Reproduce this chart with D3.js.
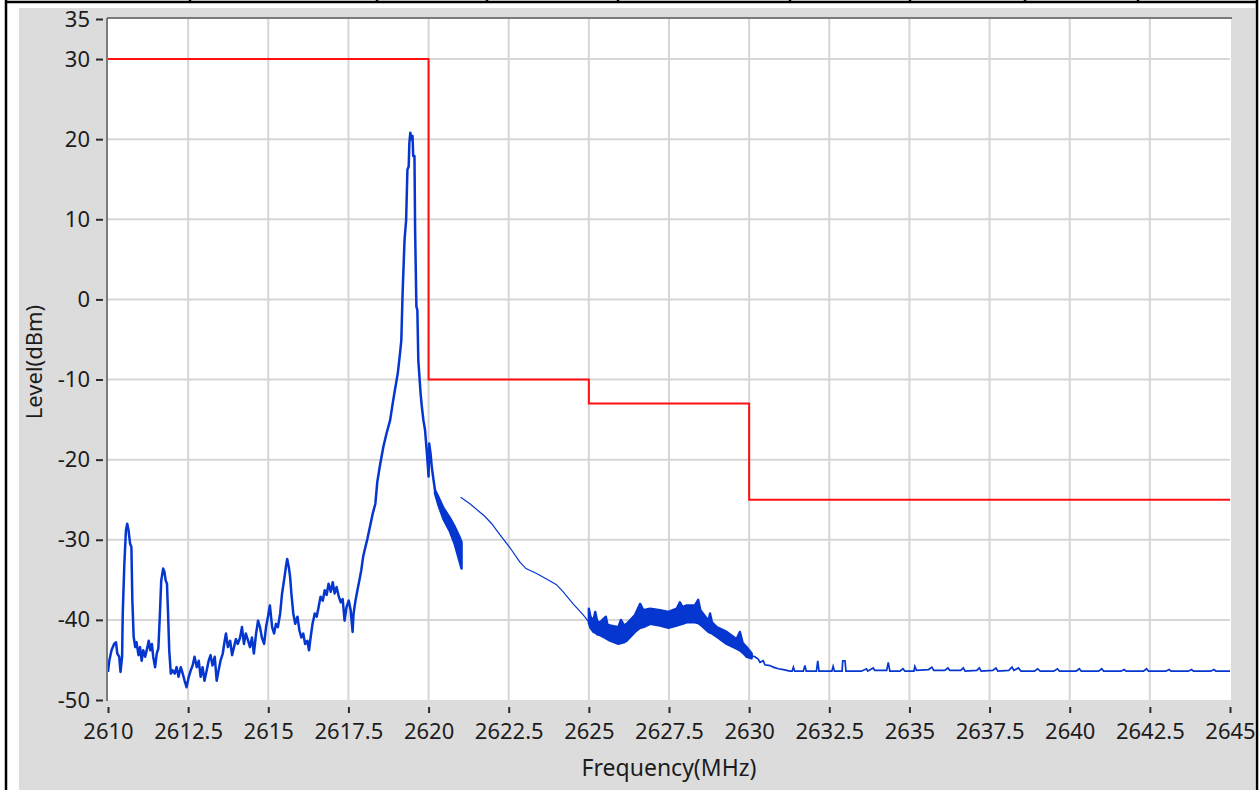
<!DOCTYPE html>
<html>
<head>
<meta charset="utf-8">
<script src="https://cdn.jsdelivr.net/npm/d3@7"></script>
<style>
  html, body { margin: 0; padding: 0; background: #ffffff; }
  svg { display: block; font-family: "Noto Sans", "Open Sans", sans-serif; }
</style>
</head>
<body>
<svg id="chart" width="1260" height="790"></svg>
<script>
// ---- Measured spectrum (MHz, dBm) ----
const mainFreq = [
  2610.00, 2610.04, 2610.11, 2610.19, 2610.25, 2610.29, 2610.35, 2610.39, 2610.44, 2610.46,
  2610.51, 2610.56, 2610.60, 2610.64, 2610.69, 2610.73, 2610.76, 2610.80, 2610.85, 2610.89,
  2610.95, 2611.00, 2611.05, 2611.10, 2611.16, 2611.23, 2611.27, 2611.32, 2611.37, 2611.41,
  2611.47, 2611.52, 2611.57, 2611.62, 2611.66, 2611.72, 2611.76, 2611.80, 2611.84, 2611.87,
  2611.91, 2611.96, 2612.02, 2612.08, 2612.14, 2612.20, 2612.27, 2612.33, 2612.39, 2612.45,
  2612.52, 2612.58, 2612.64, 2612.70, 2612.77, 2612.83, 2612.89, 2612.95, 2613.01, 2613.08,
  2613.14, 2613.20, 2613.26, 2613.33, 2613.39, 2613.45, 2613.51, 2613.58, 2613.64, 2613.68,
  2613.74, 2613.81, 2613.87, 2613.93, 2613.99, 2614.05, 2614.12, 2614.18, 2614.24, 2614.30,
  2614.37, 2614.43, 2614.49, 2614.55, 2614.62, 2614.68, 2614.74, 2614.80, 2614.87, 2614.93,
  2614.99, 2615.05, 2615.12, 2615.18, 2615.24, 2615.30, 2615.37, 2615.43, 2615.49, 2615.55,
  2615.59, 2615.64, 2615.68, 2615.72, 2615.78, 2615.84, 2615.91, 2615.97, 2616.03, 2616.09,
  2616.15, 2616.22, 2616.27, 2616.32, 2616.38, 2616.45, 2616.51, 2616.57, 2616.63, 2616.70,
  2616.76, 2616.82, 2616.88, 2616.95, 2617.01, 2617.07, 2617.13, 2617.20, 2617.26, 2617.32,
  2617.38, 2617.44, 2617.51, 2617.57, 2617.63, 2617.66, 2617.72, 2617.78, 2617.84, 2617.90,
  2617.96, 2618.03, 2618.09, 2618.17, 2618.26, 2618.34, 2618.40, 2618.48, 2618.59, 2618.69,
  2618.80, 2618.88, 2618.95, 2619.04, 2619.11, 2619.15, 2619.19, 2619.25, 2619.30, 2619.34,
  2619.38, 2619.40, 2619.43, 2619.47, 2619.50, 2619.52, 2619.56, 2619.58, 2619.62, 2619.65,
  2619.68, 2619.73, 2619.75, 2619.79, 2619.84, 2619.89, 2619.94, 2619.98, 2620.00, 2620.02,
  2620.06, 2620.10, 2620.15, 2620.20
];
const mainLevel = [
  -46.5, -45.1, -43.8, -43.0, -42.8, -44.2, -44.6, -46.5, -44.6, -39.2,
  -33.0, -28.8, -28.0, -28.8, -30.5, -30.9, -37.6, -42.1, -43.4, -42.8,
  -44.4, -43.4, -45.1, -43.8, -44.6, -43.4, -42.6, -43.8, -43.0, -44.6,
  -45.9, -44.2, -43.6, -39.2, -35.1, -33.6, -34.0, -35.1, -35.5, -38.8,
  -43.8, -46.7, -46.3, -46.7, -45.9, -47.1, -45.9, -46.7, -47.6, -48.4,
  -47.1, -46.3, -45.7, -44.6, -45.9, -45.1, -47.1, -45.9, -47.6, -46.3,
  -45.1, -44.4, -45.7, -44.6, -47.6, -46.3, -45.1, -44.2, -42.6, -41.7,
  -43.4, -42.6, -44.4, -43.4, -42.4, -43.0, -42.2, -40.9, -43.0, -41.7,
  -42.6, -43.4, -42.2, -44.2, -41.7, -40.1, -40.9, -42.2, -43.0, -40.9,
  -39.6, -38.2, -40.9, -41.7, -40.5, -40.9, -39.2, -36.7, -35.1, -33.4,
  -32.4, -33.4, -34.6, -36.7, -39.2, -40.5, -39.6, -41.3, -42.2, -41.7,
  -43.0, -42.6, -43.8, -42.2, -40.5, -39.2, -39.6, -38.4, -37.1, -37.6,
  -36.3, -36.9, -35.5, -36.5, -35.3, -36.7, -35.9, -37.1, -37.8, -37.4,
  -40.1, -38.4, -37.6, -38.8, -41.5, -39.2, -37.6, -36.3, -35.1, -33.8,
  -32.1, -30.9, -29.9, -28.4, -26.7, -25.5, -22.8, -20.8, -18.4, -16.7,
  -15.1, -13.0, -11.3, -9.2, -6.7, -5.1, 0.8, 7.4, 9.9, 16.2,
  16.6, 19.5, 20.8, 20.0, 20.4, 17.9, 17.9, 8.7, -0.9, -1.3,
  -7.6, -10.5, -11.7, -13.4, -15.1, -16.3, -18.8, -20.9, -22.1, -18.0,
  -19.2, -20.9, -22.4, -23.8
];

// Dense-sweep stretch just above the carrier: min / max envelope
const band1Freq = [2620.20, 2620.30, 2620.46, 2620.67, 2620.82, 2620.96, 2621.03];
const band1Hi   = [-23.8, -24.6, -26.0, -27.3, -28.4, -29.6, -30.3];
const band1Lo   = [-24.2, -25.6, -27.4, -29.0, -30.6, -32.6, -33.6];

// Coarse sweep between 2621 and 2625 MHz
const sweepFreq  = [2621.00, 2621.29, 2621.76, 2621.97, 2622.23, 2622.54, 2622.85, 2623.04,
                    2623.37, 2623.68, 2623.99, 2624.20, 2624.51, 2624.83, 2625.01];
const sweepLevel = [-24.7, -25.5, -27.1, -28.0, -29.4, -31.0, -32.8, -33.6,
                    -34.2, -34.9, -35.6, -36.5, -38.0, -39.4, -40.3];

// Dense-sweep stretch 2625 - 2630 MHz: min / max envelope
const band2Freq = [2625.00, 2625.05, 2625.14, 2625.20, 2625.26, 2625.35, 2625.53, 2625.58,
                   2625.66, 2625.92, 2626.00, 2626.10, 2626.18, 2626.44, 2626.60, 2626.70,
                   2626.91, 2627.22, 2627.48, 2627.74, 2627.84, 2627.92, 2628.05, 2628.31,
                   2628.41, 2628.48, 2628.73, 2628.78, 2628.84, 2628.99, 2629.30, 2629.61,
                   2629.71, 2629.80, 2629.92, 2630.08];
const band2Hi   = [-38.6, -39.6, -40.1, -39.0, -40.2, -40.3, -39.6, -40.6,
                   -40.7, -40.9, -40.0, -40.7, -40.5, -39.4, -38.0, -38.8,
                   -38.6, -38.8, -39.0, -38.6, -37.8, -38.4, -38.2, -38.2,
                   -37.5, -38.8, -40.1, -39.2, -40.3, -40.9, -41.5, -42.4,
                   -41.5, -42.9, -43.4, -44.2];
const band2Lo   = [-40.4, -41.0, -41.5, -41.6, -41.8, -41.9, -42.3, -42.4,
                   -42.6, -43.0, -42.9, -42.8, -42.6, -41.5, -41.0, -40.9,
                   -40.5, -40.7, -41.0, -40.7, -40.6, -40.5, -40.3, -40.3,
                   -40.4, -40.6, -41.5, -41.6, -41.7, -42.1, -43.0, -43.6,
                   -43.8, -44.1, -44.6, -44.8];

// Noise floor above 2630 MHz
const tailFreq = [
  2630.08, 2630.18, 2630.28, 2630.34, 2630.44, 2630.49, 2630.65, 2630.75, 2630.91, 2631.07,
  2631.27, 2631.34, 2631.38, 2631.42, 2631.69, 2631.74, 2631.78, 2632.10, 2632.14, 2632.18,
  2632.58, 2632.62, 2632.66, 2632.90, 2632.92, 2632.99, 2633.02, 2633.50, 2633.66, 2633.70,
  2633.87, 2633.92, 2634.29, 2634.34, 2634.39, 2634.70, 2634.80, 2634.86, 2635.14, 2635.17,
  2635.22, 2635.60, 2635.70, 2635.76, 2636.10, 2636.20, 2636.26, 2636.60, 2636.68, 2636.74,
  2637.10, 2637.18, 2637.24, 2637.60, 2637.70, 2637.76, 2638.10, 2638.20, 2638.26, 2638.40,
  2638.48, 2638.90, 2639.00, 2639.08, 2639.50, 2639.62, 2639.68, 2640.20, 2640.30, 2640.36,
  2640.90, 2641.00, 2641.06, 2641.60, 2641.70, 2641.76, 2642.30, 2642.40, 2642.46, 2643.00,
  2643.10, 2643.16, 2643.70, 2643.80, 2643.86, 2644.40, 2644.50, 2644.56, 2645.00
];
const tailLevel = [
  -44.5, -44.6, -44.9, -45.3, -45.1, -45.6, -45.7, -45.9, -46.1, -46.2,
  -46.4, -46.4, -45.9, -46.4, -46.4, -45.7, -46.4, -46.4, -45.1, -46.4,
  -46.4, -45.8, -46.4, -46.4, -45.1, -45.1, -46.4, -46.4, -46.1, -46.4,
  -46.0, -46.3, -46.3, -45.3, -46.4, -46.4, -46.1, -46.4, -46.4, -45.8,
  -46.3, -46.2, -45.9, -46.3, -46.3, -46.0, -46.3, -46.3, -46.0, -46.4,
  -46.3, -46.0, -46.4, -46.3, -46.0, -46.4, -46.3, -45.9, -46.3, -46.0,
  -46.4, -46.4, -46.1, -46.4, -46.4, -46.1, -46.4, -46.4, -46.1, -46.4,
  -46.4, -46.1, -46.4, -46.4, -46.2, -46.4, -46.4, -46.1, -46.4, -46.4,
  -46.2, -46.4, -46.4, -46.2, -46.4, -46.4, -46.2, -46.4, -46.4
];

// Emission limit mask (step boundaries, MHz / dBm)
const maskFreq  = [2610, 2620, 2625, 2630, 2645];
const maskLevel = [30, -10, -13, -25, -25];

// Axis ticks
const xTicks = [2610, 2612.5, 2615, 2617.5, 2620, 2622.5, 2625, 2627.5, 2630, 2632.5,
                2635, 2637.5, 2640, 2642.5, 2645];
const yTicks = [35, 30, 20, 10, 0, -10, -20, -30, -40, -50];
const yGrid  = [30, 20, 10, 0, -10, -20, -30, -40];

// ---- Drawing ----
const svg = d3.select("#chart");
const W = 1260, H = 790;
const plot = { left: 108, right: 1230, top: 19, bottom: 700 };

const x = d3.scaleLinear().domain([2610, 2645]).range([plot.left, plot.right]);
const y = d3.scaleLinear().domain([-50, 35]).range([plot.bottom, plot.top]);

// page frame: table rules around the panel
svg.append("rect").attr("x", 0).attr("y", 0).attr("width", W).attr("height", H).attr("fill", "#ffffff");
svg.append("rect").attr("x", 19).attr("y", 8).attr("width", 1236).attr("height", H - 8).attr("fill", "#dcdcdc");
const rule = svg.append("g").attr("stroke", "#000").attr("stroke-width", 2.5);
rule.append("line").attr("x1", 6).attr("x2", 1257).attr("y1", 2).attr("y2", 2);
rule.append("line").attr("x1", 6).attr("x2", 6).attr("y1", 0).attr("y2", H);
rule.append("line").attr("x1", 1257).attr("x2", 1257).attr("y1", 0).attr("y2", H);
[190, 377, 487, 618, 790, 910, 1025, 1138].forEach(px => {
  rule.append("line").attr("x1", px).attr("x2", px).attr("y1", 0).attr("y2", 3);
});

// plot background
svg.append("rect")
  .attr("x", plot.left).attr("y", plot.top - 1)
  .attr("width", plot.right - plot.left + 1).attr("height", plot.bottom - plot.top + 1)
  .attr("fill", "#ffffff");

// grid
const grid = svg.append("g").attr("stroke", "#d6d6d6").attr("stroke-width", 2);
grid.selectAll("line.v").data(xTicks.slice(1, -1)).join("line")
  .attr("class", "v")
  .attr("x1", d => x(d)).attr("x2", d => x(d))
  .attr("y1", plot.top).attr("y2", plot.bottom);
grid.selectAll("line.h").data(yGrid).join("line")
  .attr("class", "h")
  .attr("x1", plot.left).attr("x2", plot.right)
  .attr("y1", d => y(d)).attr("y2", d => y(d));

// inset frame (top + left edges)
const frame = svg.append("g").attr("stroke", "#7a7a7a").attr("stroke-width", 2);
frame.append("line").attr("x1", plot.left - 1).attr("x2", plot.right + 2).attr("y1", plot.top - 1).attr("y2", plot.top - 1);
frame.append("line").attr("x1", plot.left - 1).attr("x2", plot.left - 1).attr("y1", plot.top - 1).attr("y2", plot.bottom + 1);

// clip
svg.append("clipPath").attr("id", "plotClip").append("rect")
  .attr("x", plot.left).attr("y", plot.top)
  .attr("width", plot.right - plot.left + 1).attr("height", plot.bottom - plot.top);
const g = svg.append("g").attr("clip-path", "url(#plotClip)");

const blue = "#0536d0";
const line = d3.line().x(d => x(d[0])).y(d => y(d[1]));

// limit mask
g.append("path")
  .datum(maskFreq.map((f, i) => [f, maskLevel[i]]))
  .attr("d", d3.line().x(d => x(d[0])).y(d => y(d[1])).curve(d3.curveStepAfter))
  .attr("fill", "none").attr("stroke", "#ff1010").attr("stroke-width", 2);

// envelope bands
const band = d3.area().x(d => x(d[0])).y0(d => y(d[2])).y1(d => y(d[1]));
[[band1Freq, band1Hi, band1Lo], [band2Freq, band2Hi, band2Lo]].forEach(([fs, hi, lo]) => {
  const pts = fs.map((f, i) => [f, hi[i], lo[i]]);
  g.append("path").datum(pts).attr("d", band)
    .attr("fill", blue).attr("stroke", blue).attr("stroke-width", 2.4).attr("stroke-linejoin", "round");
});

// main trace
g.append("path")
  .datum(mainFreq.map((f, i) => [f, mainLevel[i]]))
  .attr("d", line)
  .attr("fill", "none").attr("stroke", blue).attr("stroke-width", 2.5).attr("stroke-linejoin", "round");

// coarse sweep
g.append("path")
  .datum(sweepFreq.map((f, i) => [f, sweepLevel[i]]))
  .attr("d", line)
  .attr("fill", "none").attr("stroke", blue).attr("stroke-width", 1.2);

// noise floor
g.append("path")
  .datum(tailFreq.map((f, i) => [f, tailLevel[i]]))
  .attr("d", line)
  .attr("fill", "none").attr("stroke", blue).attr("stroke-width", 1.7);

// axes
const yAxis = svg.append("g")
  .attr("transform", `translate(${plot.left - 5},0)`)
  .call(d3.axisLeft(y).tickValues(yTicks).tickFormat(d => String(d)).tickSize(7).tickPadding(6));
const xAxis = svg.append("g")
  .attr("transform", `translate(0,${plot.bottom + 7})`)
  .call(d3.axisBottom(x).tickValues(xTicks).tickFormat(d => String(d)).tickSize(6).tickPadding(10));

[yAxis, xAxis].forEach(ax => {
  ax.select(".domain").remove();
  ax.selectAll(".tick line").attr("stroke", "#2a2a2a").attr("stroke-width", 2);
  ax.selectAll(".tick text")
    .attr("fill", "#1c1c1c")
    .style("font-family", '"Noto Sans", "Open Sans", sans-serif')
    .style("font-size", "22px");
});

// axis titles
svg.append("text")
  .attr("x", (plot.left + plot.right) / 2).attr("y", 776)
  .attr("text-anchor", "middle").attr("fill", "#1c1c1c")
  .style("font-size", "23px")
  .text("Frequency(MHz)");
svg.append("text")
  .attr("transform", "translate(42,362) rotate(-90)")
  .attr("text-anchor", "middle").attr("fill", "#1c1c1c")
  .style("font-size", "22px")
  .text("Level(dBm)");
</script>
</body>
</html>
